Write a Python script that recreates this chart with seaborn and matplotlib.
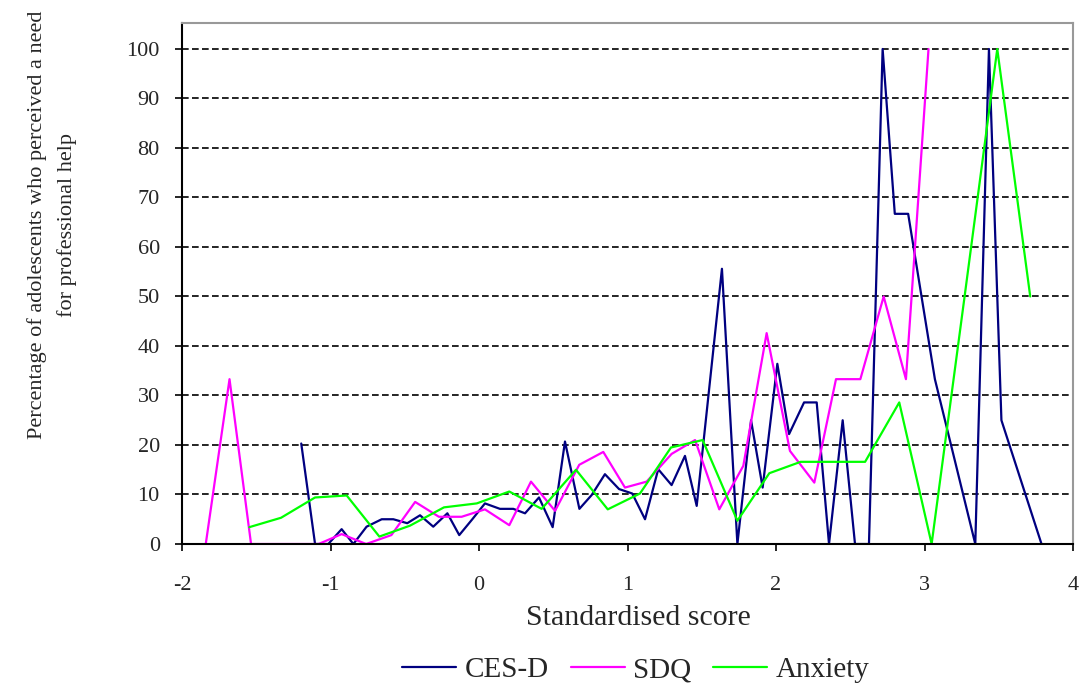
import pandas as pd
import matplotlib
matplotlib.use('Agg')
import matplotlib.pyplot as plt
import seaborn as sns

# values
cesd_x = [-1.197, -1.104, -1.015, -0.925, -0.846, -0.757, -0.655, -0.577, -0.483, -0.397,
          -0.308, -0.213, -0.133, -0.045, 0.040, 0.141, 0.231, 0.310, 0.404, 0.496,
          0.579, 0.676, 0.759, 0.848, 0.943, 1.032, 1.118, 1.207, 1.297, 1.387,
          1.466, 1.636, 1.740, 1.832, 1.910, 2.009, 2.088, 2.189, 2.274, 2.357,
          2.449, 2.532, 2.626, 2.718, 2.800, 2.890, 3.070, 3.342, 3.434, 3.518, 3.788]
cesd_y = [20.3, 0, 0, 3.0, 0, 3.5, 5.0, 5.0, 4.2, 5.8,
          3.5, 6.2, 1.8, 5.0, 8.2, 7.1, 7.1, 6.2, 9.4, 3.4,
          20.7, 7.1, 9.9, 14.1, 11.1, 10.2, 5.0, 15.1, 11.9, 17.8,
          7.7, 55.6, 0, 25.0, 11.4, 36.4, 22.2, 28.6, 28.6, 0,
          25.0, 0, 0, 100, 66.7, 66.7, 33.3, 0, 100, 25.0, 0]

sdq_x = [-1.840, -1.680, -1.535, -1.380, -1.230, -1.080, -0.925, -0.760, -0.590, -0.430,
         -0.270, -0.117, 0.040, 0.204, 0.350, 0.512, 0.675, 0.837, 0.983, 1.129,
         1.297, 1.455, 1.618, 1.780, 1.937, 2.094, 2.258, 2.404, 2.568, 2.725,
         2.875, 3.027]
sdq_y = [0, 33.3, 0, 0, 0, 0, 2.0, 0, 1.8, 8.5,
         5.5, 5.5, 7.0, 3.8, 12.6, 6.7, 16.0, 18.6, 11.4, 12.6,
         18.2, 21.0, 7.0, 15.8, 42.6, 18.8, 12.4, 33.3, 33.3, 50.0,
         33.3, 100]

anx_x = [-1.547, -1.333, -1.104, -0.891, -0.671, -0.465, -0.236, -0.015, 0.204, 0.422,
         0.653, 0.867, 1.084, 1.293, 1.506, 1.740, 1.955, 2.166, 2.380, 2.600,
         2.830, 3.048, 3.270, 3.490, 3.712]
anx_y = [3.4, 5.3, 9.4, 9.8, 1.5, 3.7, 7.4, 8.2, 10.6, 7.1,
         15.0, 7.0, 10.2, 19.5, 21.0, 4.7, 14.3, 16.6, 16.6, 16.6,
         28.6, 0, 50.0, 100, 50.0]

measures = ['CES-D', 'SDQ', 'Anxiety']
colors = ['#000080', '#FF00FF', '#00FF00']

df = pd.concat([
    pd.DataFrame({'score': x, 'pct': y, 'measure': name})
    for x, y, name in [(cesd_x, cesd_y, 'CES-D'), (sdq_x, sdq_y, 'SDQ'), (anx_x, anx_y, 'Anxiety')]
], ignore_index=True)

sns.set_style('white')
plt.rcParams['font.family'] = ['Liberation Serif', 'DejaVu Serif']
plt.rcParams['axes.unicode_minus'] = False

fig = plt.figure(figsize=(10.8, 6.89), dpi=100)
ax = fig.add_axes([182 / 1080, 1 - 544 / 689, (1073 - 182) / 1080, 521 / 689])

sns.lineplot(data=df, x='score', y='pct', hue='measure', hue_order=measures,
             palette=dict(zip(measures, colors)), estimator=None, sort=False,
             linewidth=1.6, ax=ax)

ax.set_xlim(-2, 4)
ax.set_ylim(0, 105.25)
ax.set_xticks(range(-2, 5))
ax.set_yticks(range(0, 101, 10))
ax.yaxis.grid(True, color='black', linestyle=(0, (4, 2)), linewidth=1.2)
ax.xaxis.grid(False)
ax.set_axisbelow(True)

for side in ['left', 'bottom']:
    ax.spines[side].set_color('black')
    ax.spines[side].set_linewidth(1.5)
for side in ['top', 'right']:
    ax.spines[side].set_color('#999999')
    ax.spines[side].set_linewidth(1.5)

ax.tick_params(axis='x', bottom=True, direction='out', length=5, width=1.2,
               color='black', labelsize=16, pad=18)
ax.tick_params(axis='y', left=True, direction='out', length=5, width=1.2,
               color='black', labelsize=16, pad=11)

ax.set_xlabel('Standardised score', fontsize=21.5)
ax.xaxis.set_label_coords(0.512, -0.118)
ax.set_ylabel('Percentage of adolescents who perceived a need\nfor professional help',
              fontsize=16, linespacing=1.7)
ax.yaxis.set_label_coords(-0.118, 0.612)

handles, labels = ax.get_legend_handles_labels()
ax.get_legend().remove()
fig.legend(handles, labels, loc='center', bbox_to_anchor=(636 / 1080, 1 - 670 / 689),
           ncol=3, frameon=False, fontsize=21, handlelength=1.85, handletextpad=0.3,
           columnspacing=0.75)

fig.savefig('out.png', dpi=100)
